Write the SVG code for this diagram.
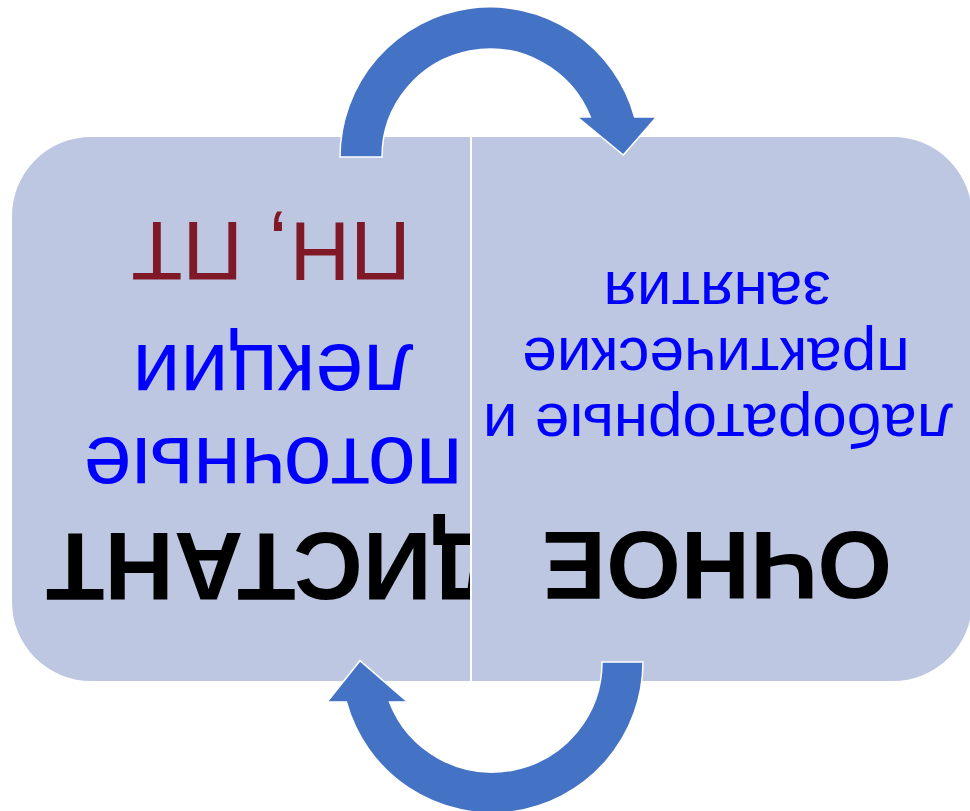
<svg xmlns="http://www.w3.org/2000/svg" width="970" height="811" viewBox="0 0 970 811">
<defs>
<style>
.panel{fill:#BEC7E2;stroke:#FFFFFF;stroke-width:2}
.arrow{fill:#4472C4;stroke:#FFFFFF;stroke-width:1.5;stroke-linejoin:miter}
.t{font-family:"Liberation Sans",Arial,sans-serif;text-anchor:middle}
.big{font-size:96px;font-weight:bold;fill:#000000}
.blue{fill:#0000FF}
.red{fill:#7F1927}
</style>
</defs>
<rect width="970" height="811" fill="#FFFFFF"/>
<g id="node-distant">
<path class="panel" d="M 471 136 H 91 A 80 80 0 0 0 11 216 V 602 A 80 80 0 0 0 91 682 H 471 Z"/>
<g transform="rotate(180 485 405.5)">
<text class="t big" x="697" y="278">ДИСТАНТ</text>
<text class="t blue" x="697" y="373" font-size="86">поточные</text>
<text class="t blue" x="697" y="466" font-size="86">лекции</text>
<text class="t red" x="699" y="589" font-size="84">ПН, ПТ</text>
</g>
</g>
<g id="node-ochnoe">
<path class="panel" d="M 471 136 H 893 A 80 80 0 0 1 973 216 V 602 A 80 80 0 0 1 893 682 H 471 Z"/>
<g transform="rotate(180 485 405.5)">
<text class="t big" x="253" y="279">ОЧНОЕ</text>
<text class="t blue" x="252" y="407" font-size="62">лабораторные и</text>
<text class="t blue" x="254" y="473" font-size="62">практические</text>
<text class="t blue" x="253" y="539" font-size="62">занятия</text>
</g>
</g>
<g id="connectors">
<path id="arrow-top" class="arrow" d="M 340 157 A 150 150 0 0 1 634.6 117 L 656.7 116.7 L 623.3 155 L 576.7 116.7 L 590.3 117 A 108 108 0 0 0 382 157 Z"/>
<path id="arrow-bottom" class="arrow" d="M 643 662 A 151 151 0 0 1 346.4 702 L 327.3 701.7 L 360 660.7 L 407.3 701.7 L 389.5 702 A 110 110 0 0 0 602 662 Z"/>
</g>
</svg>
